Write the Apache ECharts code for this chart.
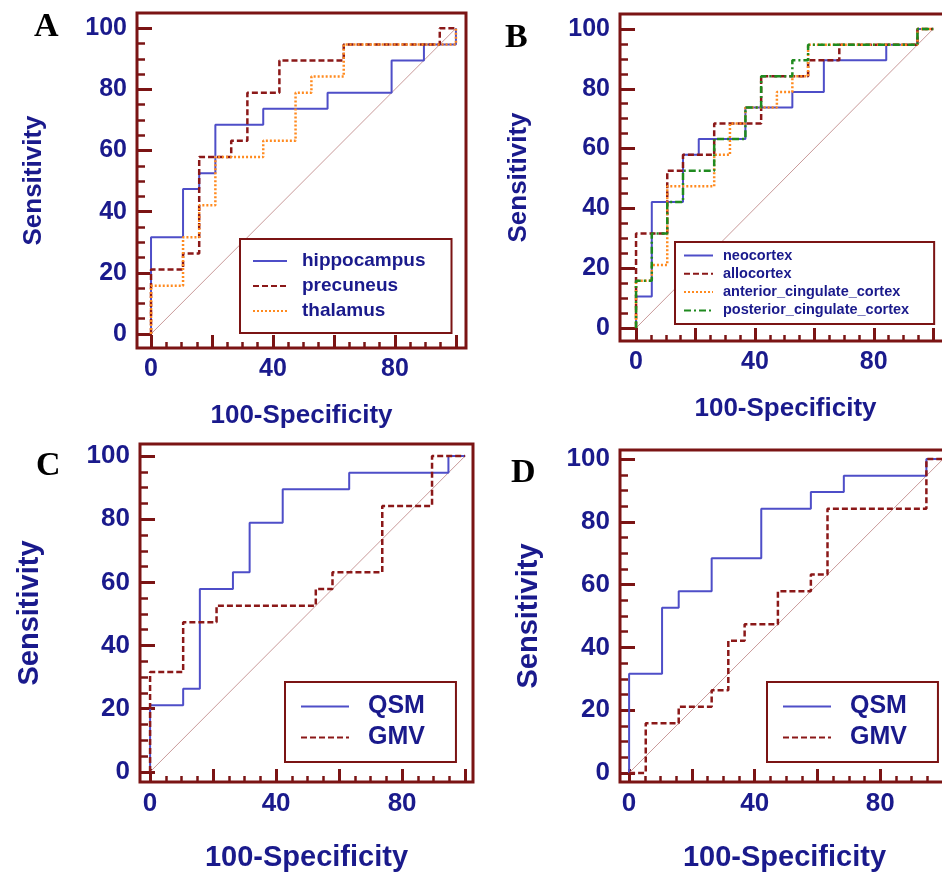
<!DOCTYPE html>
<html>
<head>
<meta charset="utf-8">
<script src="https://cdn.jsdelivr.net/npm/echarts@6/dist/echarts.min.js"></script>
<style>
html, body { margin: 0; padding: 0; background: #fff; }
#chart { width: 942px; height: 875px; }
</style>
</head>
<body>
<div id="chart"></div>
<script>
// ROC step vertices: 100-Specificity (x) and Sensitivity (y)

// A
const hippocampusX = [0, 0, 10.5, 15.8, 21.1, 36.8, 57.9, 78.9, 89.5, 100];
const hippocampusY = [0, 31.6, 47.4, 52.6, 68.4, 73.7, 78.9, 89.5, 94.7, 100];
const precuneusX = [0, 0, 10.5, 15.8, 26.3, 31.6, 42.1, 63.2, 94.7, 100];
const precuneusY = [0, 21.1, 26.3, 57.9, 63.2, 78.9, 89.5, 94.7, 100, 100];
const thalamusX = [0, 0, 10.5, 15.8, 21.1, 36.8, 47.4, 52.6, 63.2, 100];
const thalamusY = [0, 15.8, 31.6, 42.1, 57.9, 63.2, 78.9, 84.2, 94.7, 100];

// B
const neocortexX = [0, 0, 5.3, 15.8, 21.1, 36.8, 52.6, 63.2, 84.2, 94.7, 100];
const neocortexY = [0, 10.5, 42.1, 57.9, 63.2, 73.7, 78.9, 89.5, 94.7, 100, 100];
const allocortexX = [0, 0, 10.5, 15.8, 26.3, 42.1, 57.9, 68.4, 94.7, 100];
const allocortexY = [0, 31.6, 52.6, 57.9, 68.4, 84.2, 89.5, 94.7, 100, 100];
const anteriorX = [0, 0, 5.3, 10.5, 26.3, 31.6, 36.8, 47.4, 52.6, 57.9, 94.7, 100];
const anteriorY = [0, 15.8, 21.1, 47.4, 57.9, 68.4, 73.7, 78.9, 84.2, 94.7, 100, 100];
const posteriorX = [0, 0, 5.3, 10.5, 15.8, 26.3, 36.8, 42.1, 52.6, 57.9, 94.7, 100];
const posteriorY = [0, 15.8, 31.6, 42.1, 52.6, 63.2, 73.7, 84.2, 89.5, 94.7, 100, 100];

// C
const qsmCX = [0, 0, 10.5, 15.8, 26.3, 31.6, 42.1, 63.2, 94.7, 100];
const qsmCY = [0, 21.1, 26.3, 57.9, 63.2, 78.9, 89.5, 94.7, 100, 100];
const gmvCX = [0, 0, 10.5, 21.1, 52.6, 57.9, 73.7, 89.5, 100];
const gmvCY = [0, 31.6, 47.4, 52.6, 57.9, 63.2, 84.2, 100, 100];

// D
const qsmDX = [0, 0, 10.5, 15.8, 26.3, 42.1, 57.9, 68.4, 94.7, 100];
const qsmDY = [0, 31.6, 52.6, 57.9, 68.4, 84.2, 89.5, 94.7, 100, 100];
const gmvDX = [0, 5.3, 15.8, 26.3, 31.6, 36.8, 47.4, 57.9, 63.2, 94.7, 100];
const gmvDY = [0, 15.8, 21.1, 26.3, 42.1, 47.4, 57.9, 63.2, 84.2, 100, 100];

// reference diagonal
const diagX = [0, 100];
const diagY = [0, 100];

// ticks
const majorTicks = [0, 20, 40, 60, 80, 100];
const minorTicks = [5, 10, 15, 25, 30, 35, 45, 50, 55, 65, 70, 75, 85, 90, 95];
const xTickLabels = [0, 40, 80];
const yTickLabels = [0, 20, 40, 60, 80, 100];

const MAROON = '#7b1414';
const NAVY = '#1a1a8c';
const SANS = '"Liberation Sans", Arial, sans-serif';

const styles = {
    solid:  { color: '#4e4ec8', width: 2, type: 'solid' },
    dashed: { color: '#8b1818', width: 2.5, type: [6, 3] },
    dotted: { color: '#ff8a1f', width: 2.5, type: [2, 2] },
    dashdot:{ color: '#1f8a1f', width: 2.5, type: [7, 3, 2, 3] }
};

const panels = [
    {
        letter: 'A', letterPos: [34, 10],
        box: { left: 137, top: 13, width: 329, height: 335 },
        xr: [-4.6, 103.3], yr: [-4.6, 105],
        labelSize: 25, nameSize: 26, xNameGap: 55, yNameGap: 90, xNameShift: 0,
        curves: [
            { name: 'hippocampus', x: hippocampusX, y: hippocampusY, style: 'solid' },
            { name: 'precuneus', x: precuneusX, y: precuneusY, style: 'dashed' },
            { name: 'thalamus', x: thalamusX, y: thalamusY, style: 'dotted' }
        ],
        legend: { left: 240, top: 239, fontSize: 19, lineHeight: 20, itemWidth: 34, itemGap: 5,
                  padding: [12, 26, 12, 12], textPad: 10 }
    },
    {
        letter: 'B', letterPos: [505, 21],
        box: { left: 620, top: 14, width: 345, height: 327 },
        xr: [-5.4, 110.7], yr: [-4.35, 105],
        labelSize: 25, nameSize: 26, xNameGap: 55, yNameGap: 88, xNameShift: 14,
        curves: [
            { name: 'neocortex', x: neocortexX, y: neocortexY, style: 'solid' },
            { name: 'allocortex', x: allocortexX, y: allocortexY, style: 'dashed' },
            { name: 'anterior_cingulate_cortex', x: anteriorX, y: anteriorY, style: 'dotted' },
            { name: 'posterior_cingulate_cortex', x: posteriorX, y: posteriorY, style: 'dashdot' }
        ],
        legend: { left: 675, top: 242, fontSize: 14.5, lineHeight: 15, itemWidth: 29, itemGap: 3.3,
                  padding: [6, 25, 6, 8], textPad: 5 }
    },
    {
        letter: 'C', letterPos: [36, 449],
        box: { left: 140, top: 444, width: 333, height: 338 },
        xr: [-3.2, 102.5], yr: [-3.2, 103.8],
        labelSize: 26, nameSize: 29, xNameGap: 61, yNameGap: 96, xNameShift: 0,
        curves: [
            { name: 'QSM', x: qsmCX, y: qsmCY, style: 'solid' },
            { name: 'GMV', x: gmvCX, y: gmvCY, style: 'dashed' }
        ],
        legend: { left: 285, top: 682, fontSize: 25, lineHeight: 24, itemWidth: 48, itemGap: 6,
                  padding: [12, 31, 12, 15], textPad: 14 }
    },
    {
        letter: 'D', letterPos: [511, 456],
        box: { left: 620, top: 450, width: 345, height: 332 },
        xr: [-2.9, 107], yr: [-2.9, 102.9],
        labelSize: 26, nameSize: 29, xNameGap: 61, yNameGap: 77, xNameShift: 16,
        curves: [
            { name: 'QSM', x: qsmDX, y: qsmDY, style: 'solid' },
            { name: 'GMV', x: gmvDX, y: gmvDY, style: 'dashed' }
        ],
        legend: { left: 767, top: 682, fontSize: 25, lineHeight: 24, itemWidth: 48, itemGap: 6,
                  padding: [12, 31, 12, 15], textPad: 14 }
    }
];

// turn ROC vertices into right-then-up step corners
function stepPoints(xs, ys) {
    const pts = [[xs[0], ys[0]]];
    for (let i = 1; i < xs.length; i++) {
        pts.push([xs[i], ys[i - 1]]);
        pts.push([xs[i], ys[i]]);
    }
    return pts;
}

const grid = [], xAxis = [], yAxis = [], series = [], legend = [], graphic = [];

panels.forEach((p, i) => {
    grid.push(Object.assign({
        show: true, borderColor: MAROON, borderWidth: 3,
        containLabel: false, outerBoundsMode: 'none'
    }, p.box));

    const labelStyle = { color: NAVY, fontSize: p.labelSize, fontWeight: 'bold', fontFamily: SANS };
    const nameStyle = { color: NAVY, fontSize: p.nameSize, fontWeight: 'bold', fontFamily: SANS };
    const noLine = { show: false, onZero: false };

    // main axes: labels + long ticks
    xAxis.push({
        type: 'value', gridIndex: i, position: 'bottom', min: p.xr[0], max: p.xr[1],
        axisLine: noLine, splitLine: { show: false },
        axisTick: { show: true, inside: true, length: 13, customValues: majorTicks,
                    lineStyle: { color: MAROON, width: 3 } },
        axisLabel: Object.assign({ customValues: xTickLabels, margin: 9 }, labelStyle),
        name: '100-Specificity', nameLocation: 'middle', nameGap: p.xNameGap,
        nameTextStyle: Object.assign({ padding: [0, p.xNameShift, 0, 0] }, nameStyle)
    });
    yAxis.push({
        type: 'value', gridIndex: i, position: 'left', min: p.yr[0], max: p.yr[1],
        axisLine: noLine, splitLine: { show: false },
        axisTick: { show: true, inside: true, length: 15, customValues: majorTicks,
                    lineStyle: { color: MAROON, width: 3 } },
        axisLabel: Object.assign({ customValues: yTickLabels, margin: 10 }, labelStyle),
        name: 'Sensitivity', nameLocation: 'middle', nameGap: p.yNameGap, nameTextStyle: nameStyle
    });
    // minor tick axes, same sides as the main ones
    xAxis.push({
        type: 'value', gridIndex: i, position: 'bottom', min: p.xr[0], max: p.xr[1],
        axisLine: noLine, splitLine: { show: false }, axisLabel: { show: false },
        axisTick: { show: true, inside: true, length: 6, customValues: minorTicks,
                    lineStyle: { color: MAROON, width: 2.5 } }
    });
    yAxis.push({
        type: 'value', gridIndex: i, position: 'left', min: p.yr[0], max: p.yr[1],
        axisLine: noLine, splitLine: { show: false }, axisLabel: { show: false },
        axisTick: { show: true, inside: true, length: 8, customValues: minorTicks,
                    lineStyle: { color: MAROON, width: 2.5 } }
    });

    const xi = i * 2, yi = i * 2;
    series.push({
        type: 'line', xAxisIndex: xi, yAxisIndex: yi, symbol: 'none', silent: true,
        data: diagX.map((v, k) => [v, diagY[k]]),
        lineStyle: { color: '#c99a9a', width: 1 }, z: 1
    });
    p.curves.forEach(c => {
        series.push({
            name: c.name, type: 'line', xAxisIndex: xi, yAxisIndex: yi,
            symbol: 'none', showSymbol: false,
            data: stepPoints(c.x, c.y),
            lineStyle: Object.assign({}, styles[c.style]),
            itemStyle: { color: styles[c.style].color }, z: 3
        });
    });

    const L = p.legend;
    legend.push({
        show: true, orient: 'vertical', left: L.left, top: L.top,
        selectedMode: false, padding: L.padding, itemGap: L.itemGap,
        itemWidth: L.itemWidth, itemHeight: 12,
        itemStyle: { opacity: 0 },
        borderColor: MAROON, borderWidth: 2, backgroundColor: '#fff',
        textStyle: { color: NAVY, fontSize: L.fontSize, lineHeight: L.lineHeight,
                     fontWeight: 'bold', fontFamily: SANS, padding: [0, 0, 0, L.textPad] },
        data: p.curves.map(c => c.name)
    });

    graphic.push({
        type: 'text', left: p.letterPos[0], top: p.letterPos[1],
        style: { text: p.letter, fill: '#000', fontSize: 34, fontWeight: 'bold',
                 fontFamily: '"Liberation Serif", "Times New Roman", serif' }
    });
});

const chart = echarts.init(document.getElementById('chart'));
chart.setOption({
    animation: false,
    backgroundColor: '#fff',
    grid, xAxis, yAxis, series, legend, graphic
});
</script>
</body>
</html>
